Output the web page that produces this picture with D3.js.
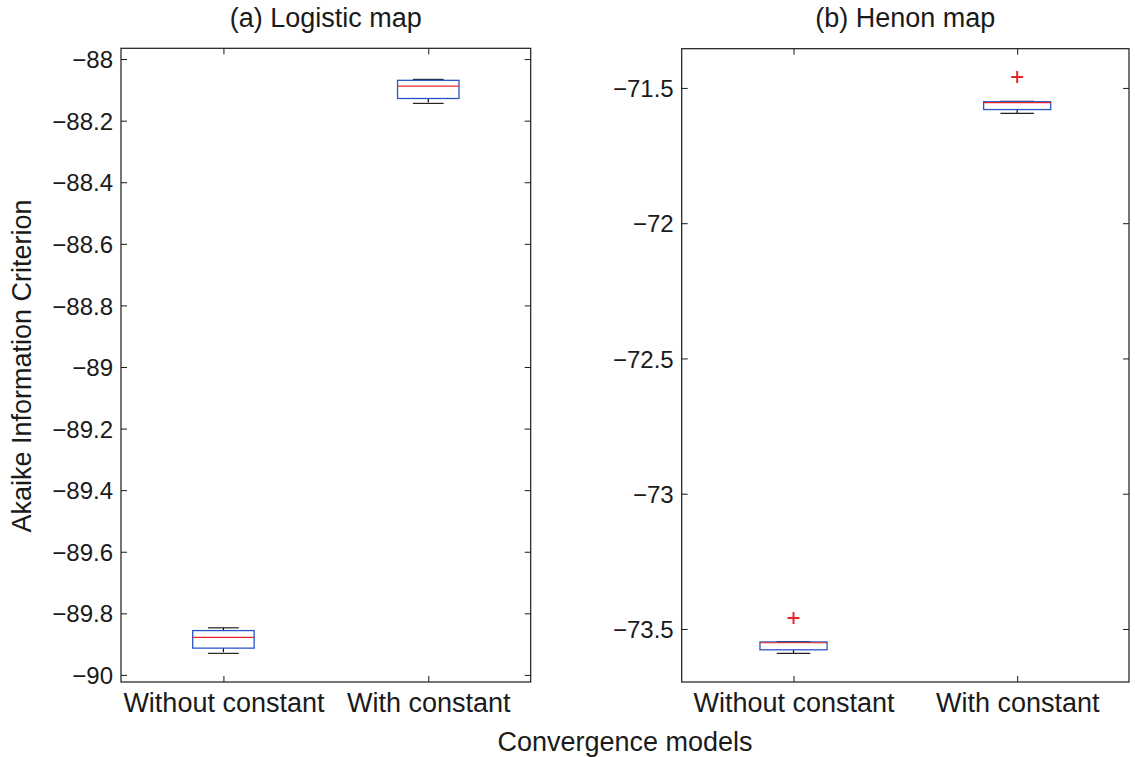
<!DOCTYPE html>
<html>
<head>
<meta charset="utf-8">
<script src="https://cdn.jsdelivr.net/npm/d3@7"></script>
<style>
  html, body { margin: 0; padding: 0; background: #fff; }
  svg { display: block; font-family: "Liberation Sans", Arial, Helvetica, sans-serif; }
</style>
</head>
<body>
<svg id="chart" width="1135" height="757"></svg>
<script>
// ---- Data ----
const categories = ["Without constant", "With constant"];

// (a) Logistic map box statistics
const logisticLower  = [-89.930, -88.144];
const logisticQ1     = [-89.913, -88.128];
const logisticMedian = [-89.878, -88.088];
const logisticQ3     = [-89.856, -88.069];
const logisticUpper  = [-89.847, -88.066];
const logisticOutliers = [[], []];
const logisticTicks = [-88, -88.2, -88.4, -88.6, -88.8, -89, -89.2, -89.4, -89.6, -89.8, -90];

// (b) Henon map box statistics
const henonLower  = [-73.590, -71.594];
const henonQ1     = [-73.577, -71.580];
const henonMedian = [-73.551, -71.554];
const henonQ3     = [-73.548, -71.551];
const henonUpper  = [-73.547, -71.550];
const henonOutliers = [[-73.459], [-71.460]];
const henonTicks = [-71.5, -72, -72.5, -73, -73.5];

const panels = [
  { title: "(a) Logistic map", lower: logisticLower, q1: logisticQ1, median: logisticMedian,
    q3: logisticQ3, upper: logisticUpper, outliers: logisticOutliers, ticks: logisticTicks,
    domain: [-90.023, -87.965], x0: 121, x1: 530.7, y0: 48.3, y1: 682 },
  { title: "(b) Henon map", lower: henonLower, q1: henonQ1, median: henonMedian,
    q3: henonQ3, upper: henonUpper, outliers: henonOutliers, ticks: henonTicks,
    domain: [-73.696, -71.355], x0: 681.7, x1: 1129, y0: 48.7, y1: 682 }
];

const svg = d3.select("#chart");
const fmt = v => (v < 0 ? "\u2212" : "") + String(Math.abs(v));
const axisColor = "#1a1a1a";
const textColor = "#1a1a1a";
const yTickSize = 24;
const labelSize = 27;
const boxColor = "#2a55c8";
const medColor = "#e8262a";

panels.forEach(p => {
  const x = d3.scaleLinear().domain([0.5, 2.5]).range([p.x0, p.x1]);
  const y = d3.scaleLinear().domain(p.domain).range([p.y1, p.y0]);
  const g = svg.append("g");
  const boxW = 0.3, capW = 0.15;

  // frame
  g.append("rect")
    .attr("x", p.x0).attr("y", p.y0)
    .attr("width", p.x1 - p.x0).attr("height", p.y1 - p.y0)
    .attr("fill", "none").attr("stroke", axisColor).attr("stroke-width", 1.2);

  // y axes (left and right), inward ticks
  const yl = g.append("g").attr("transform", `translate(${p.x0},0)`)
    .call(d3.axisLeft(y).tickValues(p.ticks).tickSize(-6).tickPadding(8).tickFormat(fmt));
  const yr = g.append("g").attr("transform", `translate(${p.x1},0)`)
    .call(d3.axisRight(y).tickValues(p.ticks).tickSize(-6).tickFormat(""));
  // x axes (bottom and top)
  const xb = g.append("g").attr("transform", `translate(0,${p.y1})`)
    .call(d3.axisBottom(x).tickValues([1, 2]).tickSize(-6).tickPadding(11)
      .tickFormat(d => categories[d - 1]));
  const xt = g.append("g").attr("transform", `translate(0,${p.y0})`)
    .call(d3.axisTop(x).tickValues([1, 2]).tickSize(-6).tickFormat(""));

  [yl, yr, xb, xt].forEach(a => {
    a.select(".domain").remove();
    a.selectAll(".tick line").attr("stroke", axisColor).attr("stroke-width", 1);
    a.selectAll("text").attr("fill", textColor)
      .style("font-family", "'Liberation Sans', Arial, sans-serif");
  });
  yl.selectAll("text").attr("dy", "0.36em").style("font-size", yTickSize + "px");
  xb.selectAll("text").attr("dy", "0.71em").style("font-size", labelSize + "px");

  // title
  g.append("text")
    .attr("x", (p.x0 + p.x1) / 2).attr("y", 27)
    .attr("text-anchor", "middle").attr("fill", textColor)
    .style("font-size", labelSize + "px")
    .text(p.title);

  // boxes
  categories.forEach((c, i) => {
    const cx = i + 1;
    // whiskers (dashed)
    g.append("line")
      .attr("x1", x(cx)).attr("x2", x(cx))
      .attr("y1", y(p.q3[i])).attr("y2", y(p.upper[i]))
      .attr("stroke", "#000").attr("stroke-width", 1.2).attr("stroke-dasharray", "4,3");
    g.append("line")
      .attr("x1", x(cx)).attr("x2", x(cx))
      .attr("y1", y(p.q1[i])).attr("y2", y(p.lower[i]))
      .attr("stroke", "#000").attr("stroke-width", 1.2).attr("stroke-dasharray", "4,3");
    // caps
    [p.upper[i], p.lower[i]].forEach(v => {
      g.append("line")
        .attr("x1", x(cx - capW / 2)).attr("x2", x(cx + capW / 2))
        .attr("y1", y(v)).attr("y2", y(v))
        .attr("stroke", "#222").attr("stroke-width", 1.2);
    });
    // box
    g.append("rect")
      .attr("x", x(cx - boxW / 2)).attr("y", y(p.q3[i]))
      .attr("width", x(cx + boxW / 2) - x(cx - boxW / 2))
      .attr("height", y(p.q1[i]) - y(p.q3[i]))
      .attr("fill", "none").attr("stroke", boxColor).attr("stroke-width", 1.3);
    // median
    g.append("line")
      .attr("x1", x(cx - boxW / 2)).attr("x2", x(cx + boxW / 2))
      .attr("y1", y(p.median[i])).attr("y2", y(p.median[i]))
      .attr("stroke", medColor).attr("stroke-width", 1.2);
    // outliers
    p.outliers[i].forEach(v => {
      const s = 6;
      g.append("path")
        .attr("d", `M${x(cx) - s},${y(v)}H${x(cx) + s}M${x(cx)},${y(v) - s}V${y(v) + s}`)
        .attr("stroke", medColor).attr("stroke-width", 2).attr("fill", "none");
    });
  });
});

// shared axis labels
svg.append("text")
  .attr("transform", "translate(31,366) rotate(-90)")
  .attr("text-anchor", "middle").attr("fill", textColor)
  .style("font-size", labelSize + "px")
  .text("Akaike Information Criterion");

svg.append("text")
  .attr("x", 625).attr("y", 751)
  .attr("text-anchor", "middle").attr("fill", textColor)
  .style("font-size", labelSize + "px")
  .text("Convergence models");
</script>
</body>
</html>
